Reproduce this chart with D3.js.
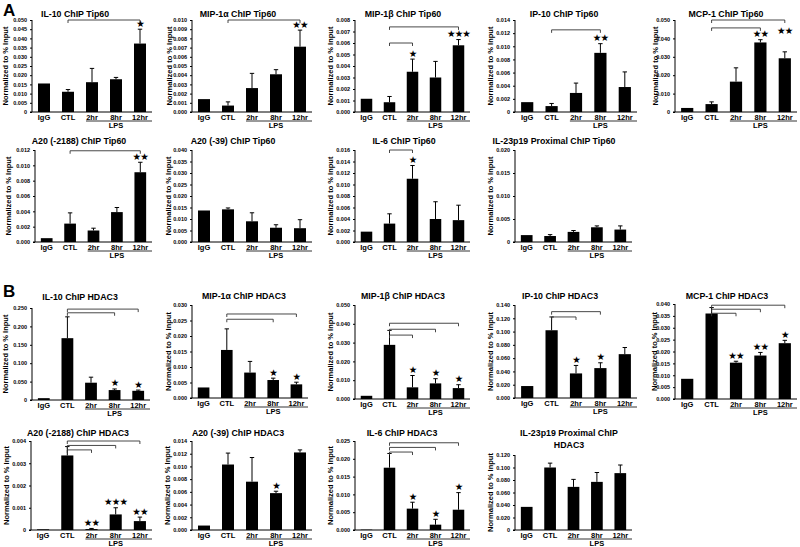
<!DOCTYPE html>
<html><head><meta charset="utf-8">
<script src="https://cdn.jsdelivr.net/npm/d3@7"></script>
<style>body{margin:0;background:#fff}svg{display:block;font-family:"Liberation Sans",Arial,sans-serif}</style>
</head><body>
<svg id="c" width="800" height="547"></svg>
<script>
// ---------- data ----------
const categories = ["IgG","CTL","2hr","8hr","12hr"];
const lpsLabel = "LPS";
const yAxisTitle = "Normalized to % Input";
const panelLetters = ["A","B"];

const titles = [
  "IL-10 ChIP Tip60","MIP-1\u03b1 ChIP Tip60","MIP-1\u03b2 ChIP Tip60","IP-10 ChIP Tip60","MCP-1 ChIP Tip60",
  "A20 (-2188) ChIP Tip60","A20 (-39) ChIP Tip60","IL-6 ChIP Tip60","IL-23p19 Proximal ChIP Tip60",
  "IL-10 ChIP HDAC3","MIP-1\u03b1 ChIP HDAC3","MIP-1\u03b2 ChIP HDAC3","IP-10 ChIP HDAC3","MCP-1 ChIP HDAC3",
  "A20 (-2188) ChIP HDAC3","A20 (-39) ChIP HDAC3","IL-6 ChIP HDAC3","IL-23p19 Proximal ChIP|HDAC3"
];

// Tip60 means / errors
const il10Tip60   = [0.0155,0.0110,0.0162,0.0178,0.0372], il10Tip60Err   = [0,0.0012,0.0075,0.0010,0.0078];
const mip1aTip60  = [0.0014,0.0007,0.0026,0.0041,0.0071], mip1aTip60Err  = [0,0.0004,0.0016,0.0005,0.0018];
const mip1bTip60  = [0.00115,0.00085,0.0035,0.0030,0.0058], mip1bTip60Err = [0,0.0005,0.0011,0.0014,0.0005];
const ip10Tip60   = [0.0015,0.0009,0.0029,0.0090,0.0038], ip10Tip60Err   = [0,0.0004,0.0015,0.0014,0.0023];
const mcp1Tip60   = [0.0022,0.0043,0.0165,0.0378,0.0292], mcp1Tip60Err   = [0,0.0012,0.0075,0.0015,0.0035];
const a20m2188Tip60 = [0.0005,0.0024,0.0015,0.0039,0.0091], a20m2188Tip60Err = [0,0.0014,0.0003,0.0006,0.0013];
const a20m39Tip60 = [0.0137,0.0142,0.0090,0.0062,0.0060], a20m39Tip60Err = [0,0.0006,0.0037,0.0013,0.0037];
const il6Tip60    = [0.0018,0.0032,0.0110,0.0040,0.0038], il6Tip60Err    = [0,0.0017,0.0023,0.0030,0.0026];
const il23Tip60   = [0.0015,0.0013,0.0022,0.0032,0.0027], il23Tip60Err   = [0,0.0003,0.0003,0.0003,0.0008];
// HDAC3 means / errors
const il10Hdac3   = [0.005,0.168,0.047,0.027,0.025], il10Hdac3Err = [0,0.058,0.015,0.003,0.002];
const mip1aHdac3  = [0.0034,0.0155,0.0082,0.0058,0.0044], mip1aHdac3Err = [0,0.0068,0.0036,0.0006,0.0007];
const mip1bHdac3  = [0.0017,0.0288,0.0062,0.0083,0.0058], mip1bHdac3Err = [0,0.0077,0.0063,0.0025,0.0018];
const ip10Hdac3   = [0.018,0.102,0.037,0.045,0.066], ip10Hdac3Err = [0,0.020,0.012,0.008,0.010];
const mcp1Hdac3   = [0.0085,0.0360,0.0153,0.0183,0.0235], mcp1Hdac3Err = [0,0.0025,0.0006,0.0013,0.0012];
const a20m2188Hdac3 = [0.00003,0.00335,0.00004,0.0007,0.0004], a20m2188Hdac3Err = [0,0.0004,0.00003,0.0003,0.00018];
const a20m39Hdac3 = [0.0007,0.0103,0.0076,0.0058,0.0122], a20m39Hdac3Err = [0,0.0018,0.0038,0.0003,0.0004];
const il6Hdac3    = [0.0001,0.0175,0.0060,0.0015,0.0057], il6Hdac3Err = [0,0.0040,0.0018,0.0015,0.0048];
const il23Hdac3   = [0.037,0.100,0.069,0.077,0.091], il23Hdac3Err = [0,0.007,0.012,0.015,0.013];

const means = [il10Tip60,mip1aTip60,mip1bTip60,ip10Tip60,mcp1Tip60,a20m2188Tip60,a20m39Tip60,il6Tip60,il23Tip60,
  il10Hdac3,mip1aHdac3,mip1bHdac3,ip10Hdac3,mcp1Hdac3,a20m2188Hdac3,a20m39Hdac3,il6Hdac3,il23Hdac3];
const errs = [il10Tip60Err,mip1aTip60Err,mip1bTip60Err,ip10Tip60Err,mcp1Tip60Err,a20m2188Tip60Err,a20m39Tip60Err,il6Tip60Err,il23Tip60Err,
  il10Hdac3Err,mip1aHdac3Err,mip1bHdac3Err,ip10Hdac3Err,mcp1Hdac3Err,a20m2188Hdac3Err,a20m39Hdac3Err,il6Hdac3Err,il23Hdac3Err];

// y-axis maxima, steps and tick label formats ("0" shown as integer where the figure does)
const yMax  = [0.050,0.010,0.008,0.014,0.050, 0.012,0.040,0.016,0.020, 0.250,0.030,0.050,0.140,0.040, 0.004,0.014,0.025,0.120];
const yStep = [0.005,0.001,0.001,0.002,0.010, 0.002,0.005,0.002,0.005, 0.050,0.005,0.010,0.020,0.005, 0.001,0.002,0.005,0.020];
const zeroAsInt = [true,false,false,true,true, false,false,false,true, true,false,false,false,false, true,false,false,true];

// significance brackets: [fromCategory, toCategory, yValue]
const brackets = [
  [[1,4,0.0500]], [[1,4,0.0100]], [[1,4,0.0074],[1,2,0.0060]], [[1,3,0.0125]], [[1,4,0.0500],[1,3,0.0457]],
  [[1,4,0.0119]], [], [[1,2,0.0160]], [],
  [[1,4,0.247],[1,3,0.237]], [[1,4,0.0271],[1,3,0.0254]], [[1,4,0.0403],[1,3,0.0371],[1,2,0.0340]],
  [[1,3,0.130],[1,2,0.122]], [[1,4,0.0395],[1,3,0.0378],[1,2,0.0361]],
  [[1,4,0.0040],[1,3,0.0038],[1,2,0.0036]], [], [[1,4,0.0245],[1,3,0.0232],[1,2,0.0219]], []
];
// significance stars: [category, text, optional yValue]
const stars = [
  [[4,"*"]], [[4,"**"]], [[2,"*"],[4,"***"]], [[3,"**"]], [[3,"**"],[4,"**",0.0446]],
  [[4,"**"]], [], [[2,"*"]], [],
  [[3,"*"],[4,"*"]], [[3,"*"],[4,"*"]], [[2,"*"],[3,"*"],[4,"*"]], [[2,"*"],[3,"*"]], [[2,"**"],[3,"**"],[4,"*"]],
  [[2,"**"],[3,"***"],[4,"**"]], [[3,"*"]], [[2,"*"],[3,"*"],[4,"*"]], []
];

// ---------- layout (pixels) ----------
const layout = [
  // ax, end, top, zero, titleX, titleY, ylabelOffset
  [32,152,20,112,75,17,-27],[192,312,20,112,238,17,-23],[355,470,20,112,403,17,-25],[515,637,20,112,564,17,-25],[675,797,20,112,726,17,-20],
  [35,152,150,242,79,144,-27],[192,312,150,242,233,144,-24],[355,470,150,242,404,144,-25],[515,632,150,242,554,144,-25],
  [32,150,308,400,80,300,-27],[192,308,305,398,244,299,-24],[355,470,305,399,403,299,-25],[515,637,305,398,560,299,-25],[675,797,304,399,727,299,-21],
  [31,152,441,530,78,436,-25],[192,312,441,530,238,436,-25],[355,470,441,530,402,436,-25],[515,632,455,530,569,436,-25]
];

const svg = d3.select("#c");
svg.append("text").attr("x",3).attr("y",16).attr("font-size",17).attr("font-weight","bold").text(panelLetters[0]);
svg.append("text").attr("x",3).attr("y",297).attr("font-size",17).attr("font-weight","bold").text(panelLetters[1]);

const fmt3 = d3.format(".3f");
titles.forEach((title,i)=>{
  const [ax,end,top,zero,tx,ty,ylo] = layout[i];
  const g = svg.append("g");
  const x = d3.scaleBand().domain(categories).range([ax,end]).paddingInner(0.5).paddingOuter(0.25);
  const y = d3.scaleLinear().domain([0,yMax[i]]).range([zero,top]);
  const nT = Math.round(yMax[i]/yStep[i]);
  const tv = d3.range(nT+1).map(k=>k*yStep[i]);

  // title
  const lines = title.split("|");
  lines.forEach((t,k)=>{
    g.append("text").attr("x",tx).attr("y",ty+k*12).attr("text-anchor","middle")
      .attr("font-size",8.8).attr("font-weight","bold").text(t);
  });

  // y axis
  const yAxis = d3.axisLeft(y).tickValues(tv).tickSize(2).tickPadding(3)
    .tickFormat(d=> (d===0 && zeroAsInt[i]) ? "0" : fmt3(d));
  const ya = g.append("g").attr("transform",`translate(${ax},0)`).call(yAxis);
  ya.select(".domain").attr("d",`M${-2},${zero}H0V${top}`).attr("stroke","#000");
  ya.selectAll(".tick line").attr("stroke","#000");
  ya.selectAll(".tick text").attr("font-size",5.5).attr("font-weight","bold").attr("font-family","Liberation Sans, Arial, sans-serif").attr("fill","#000");

  // y label
  g.append("text").attr("transform",`translate(${ax+ylo},${(top+zero)/2}) rotate(-90)`)
    .attr("text-anchor","middle").attr("dominant-baseline","central")
    .attr("font-size",7.5).attr("font-weight","bold").text(yAxisTitle);

  // bars
  const bw = x.bandwidth();
  g.selectAll("rect.bar").data(means[i]).join("rect")
    .attr("x",(d,k)=>x(categories[k])).attr("width",bw)
    .attr("y",d=>y(d)).attr("height",d=>zero-y(d)).attr("fill","#000");

  // error bars
  means[i].forEach((m,k)=>{
    const e = errs[i][k]; if(!e) return;
    const cx = x(categories[k])+bw/2;
    g.append("line").attr("x1",cx).attr("x2",cx).attr("y1",y(m)).attr("y2",y(m+e)).attr("stroke","#000").attr("stroke-width",1);
    g.append("line").attr("x1",cx-2.2).attr("x2",cx+2.2).attr("y1",y(m+e)).attr("y2",y(m+e)).attr("stroke","#000").attr("stroke-width",1);
  });

  // x axis line
  g.append("line").attr("x1",ax).attr("x2",end).attr("y1",zero).attr("y2",zero).attr("stroke","#000");

  // category labels
  categories.forEach(c=>{
    g.append("text").attr("x",x(c)+bw/2).attr("y",zero+7.5).attr("text-anchor","middle")
      .attr("font-size",7.5).attr("font-weight","bold").text(c);
  });
  // LPS underline + label
  g.append("line").attr("x1",x(categories[2])).attr("x2",end).attr("y1",zero+9).attr("y2",zero+9).attr("stroke","#000").attr("stroke-width",0.8);
  g.append("text").attr("x",x(categories[3])+bw/2).attr("y",zero+15.5).attr("text-anchor","middle")
    .attr("font-size",7.5).attr("font-weight","bold").text(lpsLabel);

  // brackets
  brackets[i].forEach(([a,b,v])=>{
    const x1 = x(categories[a])+bw/2, x2 = x(categories[b])+bw/2, yy = y(v);
    g.append("path").attr("d",`M${x1},${yy+3}V${yy}H${x2}V${yy+3}`).attr("fill","none").attr("stroke","#333").attr("stroke-width",0.9);
  });
  // stars
  stars[i].forEach(([k,t,v])=>{
    const cx = x(categories[k])+bw/2;
    const yy = v!==undefined ? y(v) : y(means[i][k]+errs[i][k]) - 6.5;
    g.append("text").attr("x",cx).attr("y",yy+4).attr("text-anchor","middle")
      .attr("font-size",9.5).attr("font-family","DejaVu Sans, sans-serif").attr("letter-spacing",-0.8)
      .text(t.replace(/\*/g,"\u2605"));
  });
});
</script>
</body></html>
